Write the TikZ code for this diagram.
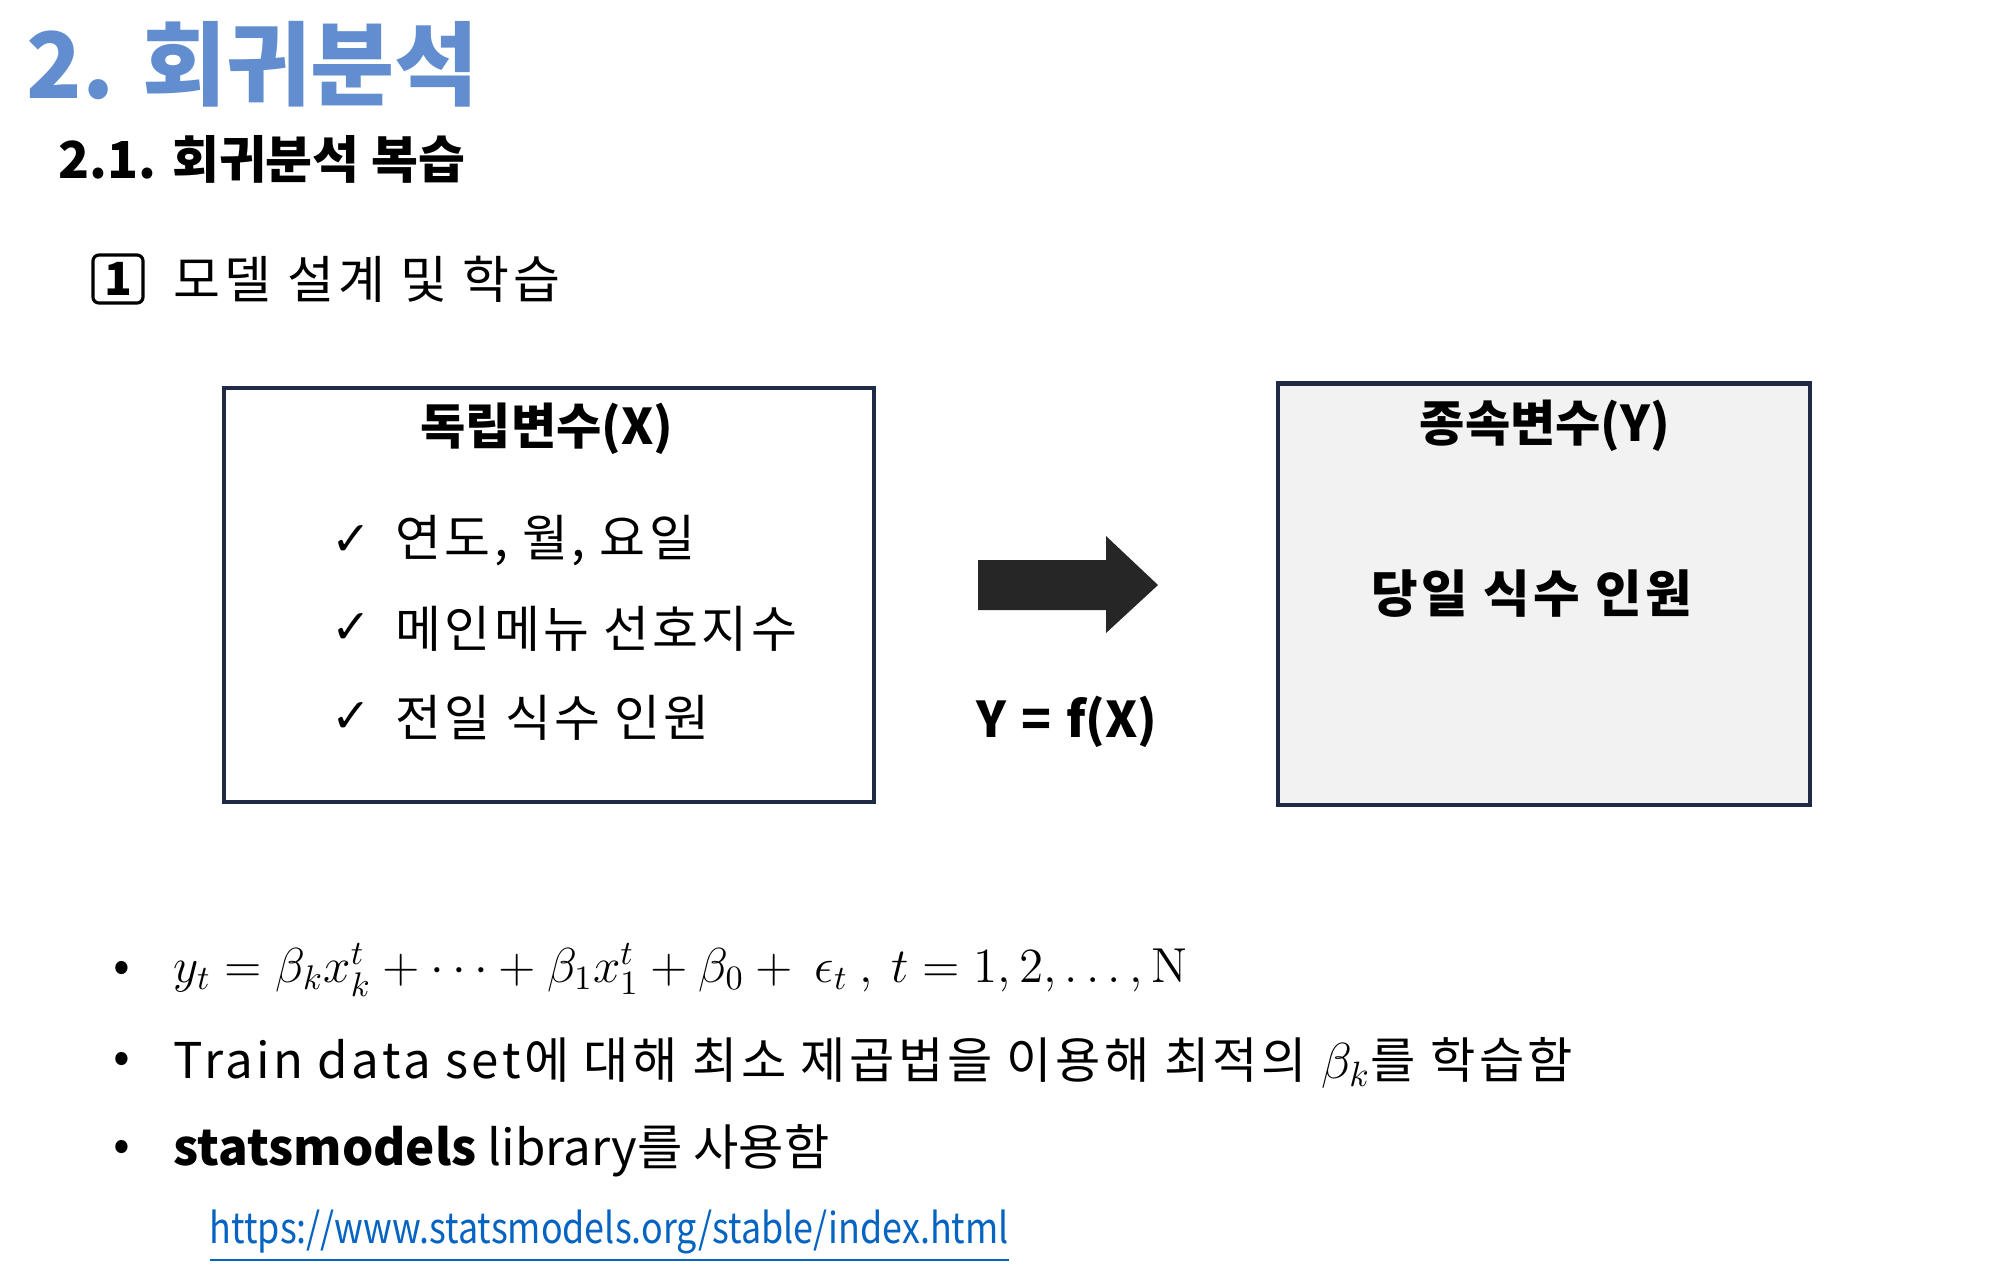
\documentclass[tikz,border=0pt]{standalone}
\usepackage{amsmath}
\usepackage{graphicx}
\usepackage[no-math]{fontspec}
\setmainfont{Noto Sans CJK KR}
\newfontfamily\symfont{DejaVu Sans}
\usepackage{xcolor}
\usepackage{tikz}
\usetikzlibrary{positioning}
\definecolor{titleblue}{HTML}{628ED0}
\definecolor{boxnavy}{HTML}{1F2A44}
\definecolor{boxfill}{HTML}{F2F2F2}
\definecolor{arrowgrey}{HTML}{262626}
\definecolor{linkblue}{HTML}{0563C1}
\newcommand{\pfont}[1]{\fontsize{#1}{#1}\selectfont}
\newcommand{\spaced}[1]{\addfontfeature{LetterSpace=#1}}

\tikzset{
  varbox/.style={draw=boxnavy, line width=1.2pt, inner sep=0pt},
  boxhead/.style={font=\pfont{14}\bfseries, inner sep=0pt},
  itemtext/.style={font=\pfont{14.2}\spaced{6.5}, anchor=west, inner sep=0pt},
  checkmark/.style={font=\symfont\pfont{13.5}, inner sep=0pt},
  bullettext/.style={font=\pfont{14}, anchor=west, inner sep=0pt},
  bulletdot/.style={font=\pfont{14}, inner sep=0pt}
}

\begin{document}
\begin{tikzpicture}[x=0.01cm,y=-0.01cm]
\useasboundingbox (0,0) rectangle (2010,1278);
% headings
\node[anchor=west, inner sep=0pt, text=titleblue, font=\pfont{26}\bfseries] (title) at (26,64) {2. 회귀분석};
\node[anchor=west, inner sep=0pt, font=\pfont{14.5}\bfseries] (subtitle) at (58,159) {2.1. 회귀분석 복습};
\node[draw, line width=0.9pt, rounded corners=0.06cm, minimum width=0.5cm, minimum height=0.48cm, inner sep=0pt, font=\pfont{13}\bfseries] (stepnum) at (118,279) {1};
\node[anchor=west, inner sep=0pt, font=\pfont{14.5}\spaced{8}] (steptext) at (173,279) {모델 설계 및 학습};

% independent variables
\node[varbox, minimum width=6.5cm, minimum height=4.14cm] (xbox) at (549,595) {};
\node[boxhead] (xhead) at (547,429) {독립변수(X)};
\node[itemtext] (xa) at (395,541) {연도, 월, 요일};
\node[itemtext] (xb) at (395,629) {메인메뉴 선호지수};
\node[itemtext] (xc) at (395,718) {전일 식수 인원};
\node[checkmark, left=0.23cm of xa] (ca) {✓};
\node[checkmark, left=0.23cm of xb] (cb) {✓};
\node[checkmark, left=0.23cm of xc] (cc) {✓};

% arrow and model
\fill[arrowgrey] (978,560) -- (1106,560) -- (1106,536) -- (1158,585) -- (1106,633) -- (1106,610) -- (978,610) -- cycle;
\node[boxhead] (fx) at (1067,722) {Y\hspace{0.3em}=\hspace{0.3em}f(X)};

% dependent variable
\node[varbox, fill=boxfill, minimum width=5.32cm, minimum height=4.21cm] (ybox) at (1544,594) {};
\node[boxhead] (yhead) at (1545,426) {종속변수(Y)};
\node[boxhead, font=\pfont{14.4}\bfseries\spaced{7}] (ybody) at (1532,594) {당일 식수 인원};

% notes
\foreach \y/\n in {972/d1,1063/d2,1151/d3} \node[bulletdot] (\n) at (122,\y) {•};
\node[bullettext, font=\pfont{14.4}] (l1) at (173,970) {\scalebox{0.97}{$y_t = \beta_k x_k^t + \cdots + \beta_1 x_1^t + \beta_0 +\ \epsilon_t\ ,\ t = 1, 2, \ldots , \mathrm{N}$}};
\node[bullettext, font=\pfont{14}\spaced{7}] (l2) at (173,1063) {Train data set에 대해 최소 제곱법을 이용해 최적의 $\beta_k$를 학습함};
\node[bullettext] (l3) at (173,1151) {\textbf{statsmodels} library를 사용함};
\node[anchor=west, inner sep=0pt, text=linkblue, font=\pfont{12}] (url) at (209,1236) {\scalebox{0.85}[1]{\underline{https://www.statsmodels.org/stable/index.html}}};
\end{tikzpicture}
\end{document}
